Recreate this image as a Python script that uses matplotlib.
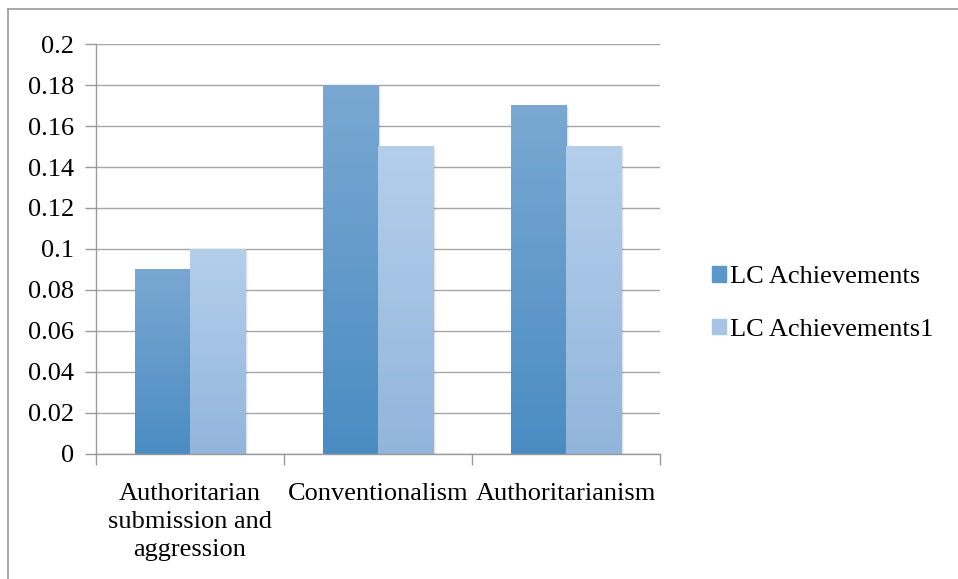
import matplotlib.pyplot as plt
import matplotlib.colors as mcolors
import numpy as np

plt.rcParams['font.family'] = ['Liberation Serif', 'DejaVu Serif']

categories = ["Authoritarian\nsubmission and\naggression", "Conventionalism", "Authoritarianism"]
series_names = ["LC Achievements", "LC Achievements1"]
lc_achievements = [0.09, 0.18, 0.17]
lc_achievements1 = [0.10, 0.15, 0.15]
y_ticks = [0, 0.02, 0.04, 0.06, 0.08, 0.1, 0.12, 0.14, 0.16, 0.18, 0.2]
y_tick_labels = ["0", "0.02", "0.04", "0.06", "0.08", "0.1", "0.12", "0.14", "0.16", "0.18", "0.2"]

# top / bottom colours of the gradient fill
grad_colors = [("#7aa8d2", "#4a8cc2"), ("#b4cfec", "#92b5dc")]
legend_colors = ["#5b97c9", "#a6c4e6"]

fig = plt.figure(figsize=(9.58, 5.79), dpi=100)
ax = fig.add_axes([0.1002, 0.2159, 0.5887, 0.7081])

# outer chart border (only left and top show in the picture)
fig.add_artist(plt.Line2D([0.0084, 0.0084], [0, 0.9845], color="#9a9a9a", lw=1.2, transform=fig.transFigure))
fig.add_artist(plt.Line2D([0.0084, 1], [0.9845, 0.9845], color="#9a9a9a", lw=1.2, transform=fig.transFigure))

bar_w = 0.293
x = np.arange(len(categories))
for s, vals in enumerate([lc_achievements, lc_achievements1]):
    top, bot = grad_colors[s]
    cmap = mcolors.LinearSegmentedColormap.from_list("g%d" % s, [bot, top])
    grad = np.linspace(0, 1, 256).reshape(-1, 1)
    for i, v in enumerate(vals):
        x0 = x[i] - bar_w + s * bar_w
        # soft shadow
        for k, a in enumerate([0.10, 0.07, 0.04]):
            off = 0.006 * (k + 1)
            ax.add_patch(plt.Rectangle((x0 + off, -0.0003 * (k + 1)), bar_w, v, color="black",
                                       alpha=a, lw=0, zorder=1.5))
        ax.imshow(grad, extent=[x0, x0 + bar_w, 0, v], origin="lower", aspect="auto",
                  cmap=cmap, zorder=2 + s * 0.1, interpolation="bilinear")

ax.set_xlim(-0.5, len(categories) - 0.5)
ax.set_ylim(0, 0.2)
ax.set_yticks(y_ticks)
ax.set_yticklabels(y_tick_labels, fontsize=19)
ax.set_xticks([-0.5, 0.5, 1.5, 2.5], minor=False)
ax.set_xticklabels([])
ax.set_xticks(x, minor=True)
ax.set_xticklabels(categories, minor=True, fontsize=19, linespacing=1.35)
ax.tick_params(axis="x", which="minor", length=0, pad=21)
ax.tick_params(axis="x", which="major", length=8, color="#9a9a9a", width=1)
ax.tick_params(axis="y", length=8, color="#9a9a9a", width=1, pad=8)
ax.yaxis.grid(True, color="#a6a6a6", lw=1)
ax.set_axisbelow(True)
for sp in ["top", "right"]:
    ax.spines[sp].set_visible(False)
for sp in ["left", "bottom"]:
    ax.spines[sp].set_color("#9a9a9a")
    ax.spines[sp].set_linewidth(1)

handles = [plt.Rectangle((0, 0), 1, 1, color=c) for c in legend_colors]
fig.legend(handles, series_names, loc="center left", bbox_to_anchor=(0.729, 0.476),
           frameon=False, fontsize=19, handlelength=0.55, handleheight=0.55,
           handletextpad=0.15, labelspacing=1.15, borderpad=0)

fig.savefig("out.png", dpi=100)
